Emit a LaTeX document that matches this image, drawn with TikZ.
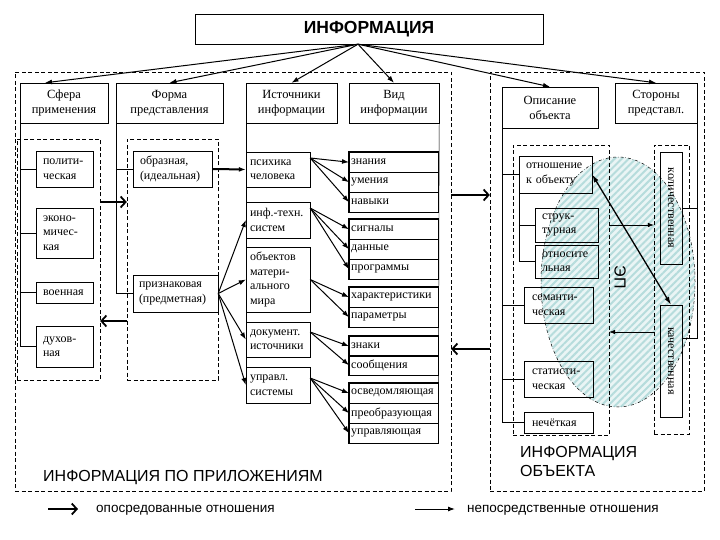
\documentclass[tikz,border=0pt]{standalone}
\usepackage{fontspec}
\setmainfont{Liberation Serif}
\setsansfont{Liberation Sans}
\usetikzlibrary{arrows.meta,patterns.meta}
\definecolor{hatchbg}{RGB}{234,245,245}
\definecolor{hatchln}{RGB}{182,220,220}
\newcommand{\cellfont}{\fontsize{12}{14.5}\selectfont}
\newcommand{\headfont}{\fontsize{12.5}{15}\selectfont}

\begin{document}
\begin{tikzpicture}[x=1pt,y=-1pt,
    cell/.style={draw, font=\cellfont, align=left, inner ysep=0pt},
    head/.style={draw, font=\headfont, align=center, inner sep=0pt},
    grp/.style={draw, dash pattern=on 4pt off 2.5pt},
    row/.style={draw, font=\cellfont, anchor=north west, align=left, inner xsep=2pt, inner ysep=0pt, text width=85pt, minimum height=20pt},
    direct/.style={-{Latex[length=7pt,width=5pt]}, line width=1pt},
    thinarrow/.style={-{Latex[length=6pt,width=4.5pt]}, line width=0.6pt},
    mediated/.style={-{Straight Barb[length=5pt,width=11pt]}, line width=1.8pt},
    biglabel/.style={font=\sffamily\fontsize{16}{19}\selectfont, align=left, inner sep=0pt},
    legend/.style={font=\sffamily\fontsize{13.5}{16}\selectfont, anchor=west, inner sep=0pt}]

    \useasboundingbox (0,0) rectangle (720,540);

    \fill[hatchbg] (618,282) ellipse [x radius=77pt, y radius=125pt];
    \fill[pattern={Lines[angle=45,distance=5pt,line width=2pt]}, pattern color=hatchln] (618,282) ellipse [x radius=77pt, y radius=125pt];
    \draw[dash dot, line width=0.5pt] (618,282) ellipse [x radius=77pt, y radius=125pt];

    \node[draw, minimum width=348pt, minimum height=30pt, font=\sffamily\bfseries\fontsize{17.5}{20}\selectfont] (title) at (369,29) {ИНФОРМАЦИЯ};

    \node[grp, minimum width=436pt, minimum height=419pt] (lframe) at (233,281.5) {};
    \node[grp, minimum width=214pt, minimum height=419pt] (rframe) at (597,281.5) {};
    \node[grp, minimum width=83pt, minimum height=241pt] (sfgrp) at (58.5,259.5) {};
    \node[grp, minimum width=91pt, minimum height=241pt] (fmgrp) at (172.5,259.5) {};
    \node[grp, minimum width=96pt, minimum height=290pt] (opgrp) at (561,290) {};
    \node[grp, minimum width=35pt, minimum height=289pt] (stgrp) at (671.5,289.5) {};

    \node[head, minimum width=88pt, minimum height=40pt] (sfera) at (64,103) {Сфера\\применения};
    \node[head, minimum width=107pt, minimum height=40pt] (forma) at (169.5,103) {Форма\\представления};
    \node[head, minimum width=91pt, minimum height=40pt] (istoch) at (291.5,103) {Источники\\информации};
    \node[head, minimum width=90pt, minimum height=40pt] (vid) at (394,103) {Вид\\информации};
    \node[head, minimum width=96pt, minimum height=41pt] (opis) at (550,107.5) {Описание\\объекта};
    \node[head, minimum width=82pt, minimum height=40pt] (storony) at (656,103) {Стороны\\представл.};

    \node[cell, inner xsep=7pt, text width=43pt, minimum height=36pt] (polit) at (64.5,169) {полити-\\ческая};
    \node[cell, inner xsep=7pt, text width=43pt, minimum height=50pt] (ekon) at (64.5,233) {эконо-\\мичес-\\кая};
    \node[cell, inner xsep=7pt, text width=43pt, minimum height=21pt] (voen) at (64.5,292.5) {военная};
    \node[cell, inner xsep=7pt, text width=43pt, minimum height=41pt] (dukh) at (64.5,346.5) {духов-\\ная};

    \node[cell, inner xsep=7pt, text width=65pt, minimum height=36pt] (obraz) at (172.5,169) {образная,\\(идеальная)};
    \node[cell, inner xsep=6pt, text width=73pt, minimum height=37pt] (priznak) at (175.5,293.5) {признаковая\\(предметная)};

    \node[cell, inner xsep=4pt, text width=56pt, minimum height=35pt] (psych) at (278,169.5) {психика\\человека};
    \node[cell, inner xsep=4pt, text width=56pt, minimum height=36pt] (inftech) at (278,220) {инф.-техн.\\систем};
    \node[cell, inner xsep=4pt, text width=56pt, minimum height=65pt] (obj) at (278,279.5) {объектов\\матери-\\ального\\мира};
    \node[cell, inner xsep=4pt, text width=56pt, minimum height=35pt] (docs) at (278,339.5) {документ.\\источники};
    \node[cell, inner xsep=4pt, text width=56pt, minimum height=36pt] (upr) at (278,385) {управл.\\системы};

    \foreach \n/\t/\y in {v1/знания/152, v2/умения/172, v3/навыки/192, v4/сигналы/219, v5/данные/239, v6/программы/259, v7/характеристики/287, v8/параметры/307, v9/знаки/336, v10/сообщения/355, v11/осведомляющая/383, v12/преобразующая/403, v13/управляющая/423}
        \node[row] (\n) at (349,\y) {\t};
    \draw[line width=1.4pt] (v1.north west) rectangle (v3.south east);
    \draw[line width=1.4pt] (v4.north west) rectangle (v6.south east);
    \draw[line width=1.4pt] (v7.north west) rectangle (v8.south east);
    \draw[line width=1.4pt] (v9.north west) rectangle (v10.south east);
    \draw[line width=1.4pt] (v11.north west) rectangle (v13.south east);

    \node[cell, inner xsep=7pt, text width=59pt, minimum height=37pt] (otn) at (555.5,174.5) {отношение\\к объекту};
    \node[cell, inner xsep=7pt, text width=49pt, minimum height=34pt] (struk) at (566.5,225) {струк-\\турная};
    \node[cell, inner xsep=7pt, text width=49pt, minimum height=33pt] (otnos) at (566.5,261.5) {относите\\льная};
    \node[cell, inner xsep=8pt, text width=53pt, minimum height=36pt] (sem) at (558.5,305) {семанти-\\ческая};
    \node[cell, inner xsep=8pt, text width=53pt, minimum height=36pt] (stat) at (558.5,379) {статисти-\\ческая};
    \node[cell, inner xsep=8pt, text width=53pt, minimum height=21pt] (nech) at (558.5,422.5) {нечёткая};

    \node[draw, inner sep=0pt, minimum width=22pt, minimum height=112pt, font=\cellfont] (kol) at (671,208) {\rotatebox{-90}{количественная}};
    \node[draw, inner sep=0pt, minimum width=22pt, minimum height=112pt, font=\cellfont] (kach) at (671,361) {\rotatebox{-90}{качественная}};
    \node[font=\sffamily\fontsize{16}{19}\selectfont, inner sep=0pt] (ep) at (620,277) {\rotatebox{-90}{ЭП}};

    \draw (sfera.south west) -- (sfera.south west |- dukh.west);
    \foreach \b in {polit, ekon, voen, dukh}
        \draw (sfera.south west |- \b.west) -- (\b.west);
    \draw (forma.south west) -- (forma.south west |- priznak.west);
    \foreach \b in {obraz, priznak}
        \draw (forma.south west |- \b.west) -- (\b.west);
    \draw (istoch.south west) -- (upr.south west);
    \draw (vid.south east) -- (v13.south east);
    \draw (opis.south west) -- (opis.south west |- nech.west);
    \foreach \b in {otn, sem, stat, nech}
        \draw (opis.south west |- \b.west) -- (\b.west);
    \draw (otn.south west) |- (otnos.west);
    \draw (otn.south west |- struk.west) -- (struk.west);
    \draw (storony.south east) |- (kol.east);
    \draw (storony.south east) |- ([yshift=23pt]kach.east);

    \coordinate (src) at ([xshift=-11pt]title.south);
    \draw[direct] (src) -- ([xshift=-19pt]sfera.north);
    \foreach \h in {forma, istoch, vid, opis, storony}
        \draw[direct] (src) -- (\h.north);

    \draw[line width=2pt, -{Latex[length=7pt,width=5pt]}] (obraz.east) -- (psych.west);
    \foreach \s in {inftech, obj, docs, upr}
        \draw[direct] (priznak.east) -- (\s.west);

    \foreach \v in {v1, v2, v3}
        \draw[direct] ([yshift=11.5pt]psych.east) -- (\v.west);
    \foreach \v in {v4, v5, v6}
        \draw[direct] ([yshift=12pt]inftech.east) -- (\v.west);
    \foreach \v in {v7, v8}
        \draw[direct] (obj.east) -- (\v.west);
    \foreach \v in {v9, v10}
        \draw[direct] ([yshift=7.5pt]docs.east) -- (\v.west);
    \foreach \v in {v11, v12, v13}
        \draw[direct] ([yshift=7pt]upr.east) -- (\v.west);

    \draw[mediated] (sfgrp.east |- 0,202) -- (fmgrp.west |- 0,202);
    \draw[mediated] (fmgrp.west |- 0,321) -- (sfgrp.east |- 0,321);
    \draw[mediated] (lframe.east |- 0,195) -- (rframe.west |- 0,195);
    \draw[mediated] (rframe.west |- 0,349) -- (lframe.east |- 0,349);

    \draw[thinarrow] (opgrp.east |- struk.east) -- (stgrp.west |- struk.east);
    \draw[thinarrow] (stgrp.west |- 0,332) -- (opgrp.east |- 0,332);
    \draw[line width=1.3pt, {Latex[length=8pt,width=5pt]}-{Latex[length=8pt,width=5pt]}] (otn.east) -- (kach.north);

    \node[biglabel, anchor=west] (infapp) at (43,478) {ИНФОРМАЦИЯ ПО ПРИЛОЖЕНИЯМ};
    \node[biglabel, anchor=north west] (infobj) at (520,446) {ИНФОРМАЦИЯ\\ОБЪЕКТА};

    \node[legend] (lgmed) at (96,510) {опосредованные отношения};
    \node[legend] (lgdir) at (467,510) {непосредственные отношения};
    \coordinate (lm1) at (48,509);
    \coordinate (lm2) at (78,509);
    \draw[mediated] (lm1) -- (lm2);
    \coordinate (ld1) at (415,509);
    \coordinate (ld2) at (455,509);
    \draw[direct] (ld1) -- (ld2);

\end{tikzpicture}
\end{document}
